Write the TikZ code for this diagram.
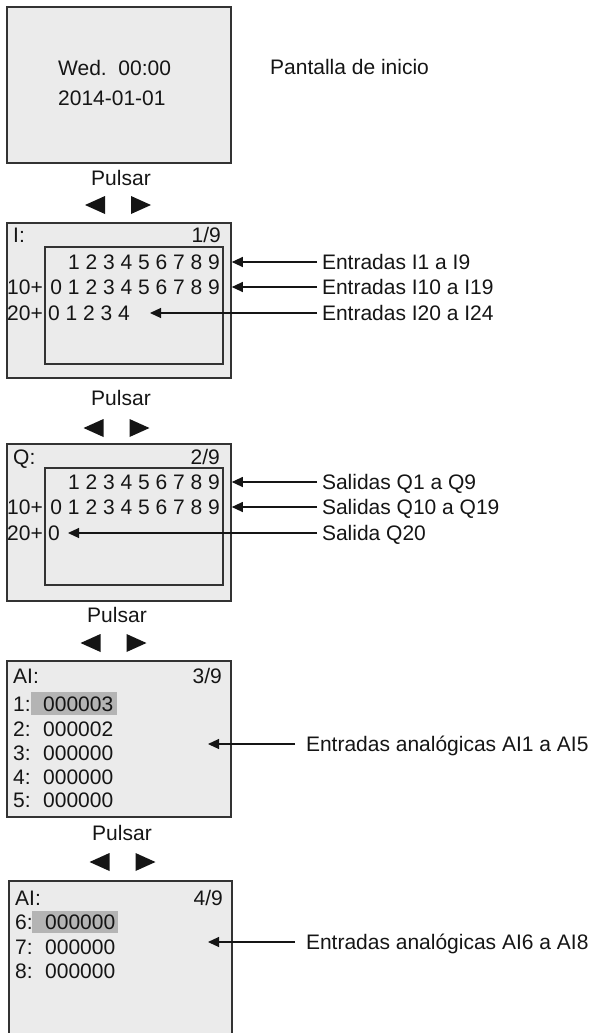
\documentclass[tikz,border=0pt]{standalone}
\usepackage{fontspec}
\setmainfont{Liberation Sans}
\usetikzlibrary{arrows.meta}

\definecolor{lcdgray}{HTML}{EBEBEB}
\definecolor{lcdmark}{HTML}{B4B4B4}
\definecolor{lcdline}{HTML}{333333}
\definecolor{inkblack}{HTML}{151515}

\begin{document}
\begin{tikzpicture}[
    x=1pt, y=-1pt,
    txt/.style={font=\fontsize{21}{24}\selectfont, text=inkblack, inner sep=0pt,
        text height=15pt, text depth=0pt},
    lcdbox/.style={rectangle, draw=lcdline, line width=1.6pt, fill=lcdgray,
        minimum width=224pt},
    lcdframe/.style={rectangle, draw=lcdline, line width=1.1pt,
        minimum width=178pt, minimum height=117pt},
    lbl/.style={txt, anchor=west, outer xsep=5pt},
    arrow/.style={-{Triangle[length=11pt, width=10pt]}, line width=1.1pt, draw=inkblack}
]
\useasboundingbox (0,0) rectangle (595,1033);

% pantalla de inicio
\node[lcdbox, minimum height=156pt] (home) at (119,85) {};
\node[txt, anchor=west] (clock) at (58,68) {Wed.\ \ 00:00};
\node[txt, anchor=west] (date) at (58,98) {2014-01-01};
\node[txt, anchor=west] (homelbl) at (270,67) {Pantalla de inicio};

% Pulsar + teclas de cursor
\foreach \n/\y/\ty/\x/\tx in {1/178/205/121/118, 2/398/428/121/116.5,
                              3/615/643/117/113.5, 4/833/862/122/122.5} {
  \node[txt] (push\n) at (\x,\y) {Pulsar};
  \fill[inkblack] (\tx-33,\ty) -- (\tx-13,\ty-9) -- (\tx-13,\ty+9) -- cycle;
  \fill[inkblack] (\tx+33,\ty) -- (\tx+13,\ty-9) -- (\tx+13,\ty+9) -- cycle;
}

% entradas I
\node[lcdbox, minimum height=155pt] (scrI) at (119,300.5) {};
\node[lcdframe] (gridI) at (134,305.5) {};
\node[txt, anchor=west] (headI) at (13,235) {I:};
\node[txt, anchor=east] (pageI) at (221,235) {1/9};
\node[txt, anchor=east] (rowIa) at (220,262) {1 2 3 4 5 6 7 8 9};
\node[txt, anchor=east] (tenI) at (43,287) {10+};
\node[txt, anchor=east] (rowIb) at (220,287) {0 1 2 3 4 5 6 7 8 9};
\node[txt, anchor=east] (twentyI) at (43,313) {20+};
\node[txt, anchor=west] (rowIc) at (48,313) {0 1 2 3 4};
\coordinate (tipIc) at (150,313);
\node[lbl] (inIa) at (317,262) {Entradas I1 a I9};
\node[lbl] (inIb) at (317,287) {Entradas I10 a I19};
\node[lbl] (inIc) at (317,313) {Entradas I20 a I24};

\draw[arrow] (inIa.west) -- (inIa.west -| scrI.east);
\draw[arrow] (inIb.west) -- (inIb.west -| scrI.east);
\draw[arrow] (inIc.west) -- (tipIc);

% salidas Q
\node[lcdbox, minimum height=157pt] (scrQ) at (119,522.5) {};
\node[lcdframe] (gridQ) at (134,526.5) {};
\node[txt, anchor=west] (headQ) at (13,457) {Q:};
\node[txt, anchor=east] (pageQ) at (220,457) {2/9};
\node[txt, anchor=east] (rowQa) at (220,482) {1 2 3 4 5 6 7 8 9};
\node[txt, anchor=east] (tenQ) at (43,507) {10+};
\node[txt, anchor=east] (rowQb) at (220,507) {0 1 2 3 4 5 6 7 8 9};
\node[txt, anchor=east] (twentyQ) at (43,533) {20+};
\node[txt, anchor=west] (rowQc) at (48,533) {0};
\coordinate (tipQc) at (68,533);
\node[lbl] (outQa) at (317,482) {Salidas Q1 a Q9};
\node[lbl] (outQb) at (317,507) {Salidas Q10 a Q19};
\node[lbl] (outQc) at (317,533) {Salida Q20};

\draw[arrow] (outQa.west) -- (outQa.west -| scrQ.east);
\draw[arrow] (outQb.west) -- (outQb.west -| scrQ.east);
\draw[arrow] (outQc.west) -- (tipQc);

% entradas analogicas AI1..AI5
\node[lcdbox, minimum height=156pt] (scrA) at (119,739) {};
\fill[lcdmark] (31,692) rectangle (117,715);
\node[txt, anchor=west] (headA) at (13,676) {AI:};
\node[txt, anchor=east] (pageA) at (222,676) {3/9};
\foreach \k/\v/\y in {1/000003/704, 2/000002/729, 3/000000/753,
                      4/000000/777, 5/000000/800} {
  \node[txt, anchor=west] (numA\k) at (13,\y) {\k:};
  \node[txt, anchor=west] (valA\k) at (43,\y) {\v};
}
\coordinate (tipA) at (208,744);
\node[lbl, outer xsep=11pt] (inA) at (295,744) {Entradas analógicas AI1 a AI5};
\draw[arrow] (inA.west) -- (tipA);

% entradas analogicas AI6..AI8
\fill[lcdgray] (9,881) rectangle (232,1033);
\draw[lcdline, line width=1.6pt] (9,1033) |- (232,881) -- (232,1033);
\fill[lcdmark] (32,911) rectangle (118,933);
\node[txt, anchor=west] (headB) at (15,898) {AI:};
\node[txt, anchor=east] (pageB) at (223,898) {4/9};
\foreach \k/\y in {6/922, 7/947, 8/971} {
  \node[txt, anchor=west] (numB\k) at (15,\y) {\k:};
  \node[txt, anchor=west] (valB\k) at (45,\y) {000000};
}
\coordinate (tipB) at (208,942);
\node[lbl, outer xsep=11pt] (inB) at (295,942) {Entradas analógicas AI6 a AI8};
\draw[arrow] (inB.west) -- (tipB);
\end{tikzpicture}
\end{document}
